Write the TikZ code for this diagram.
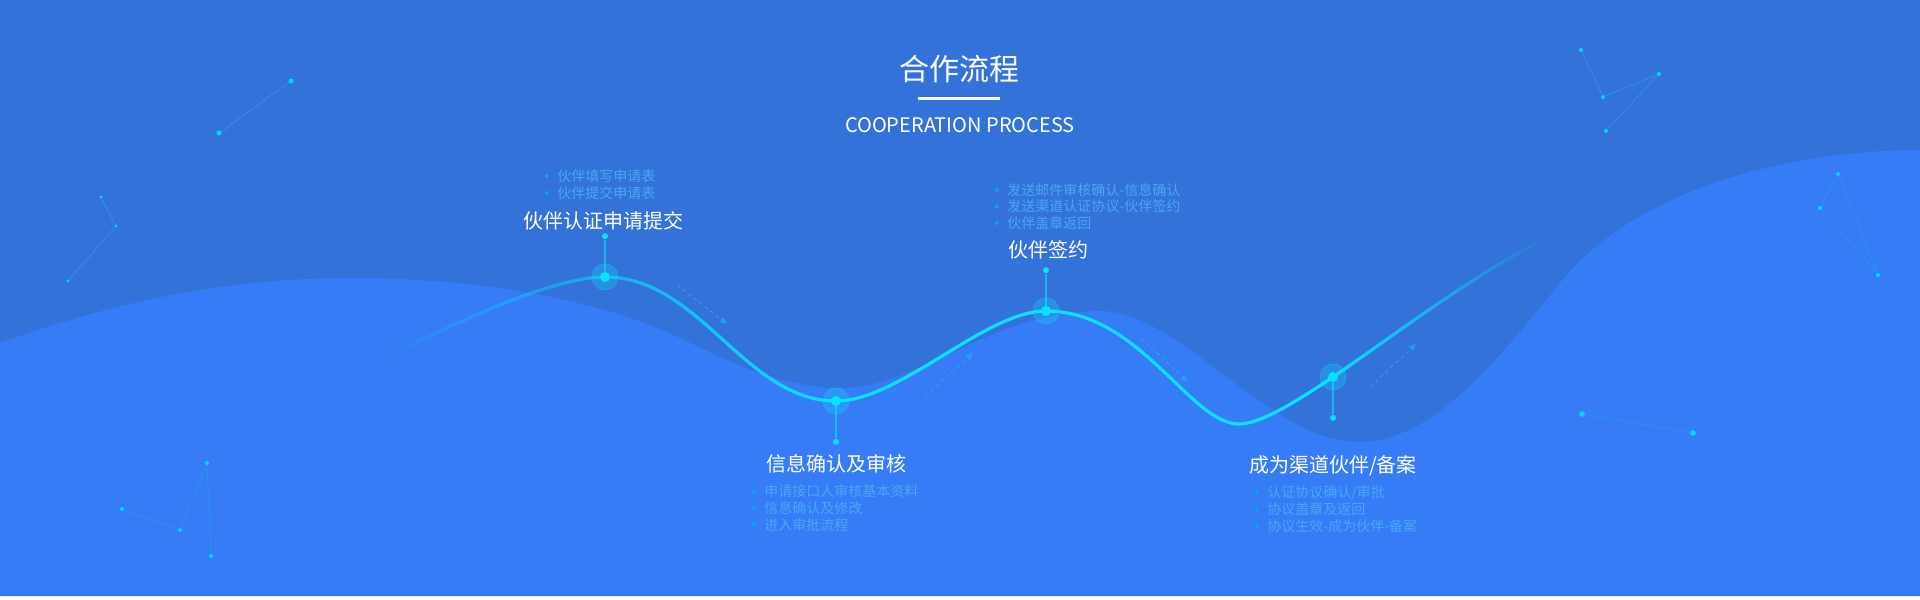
\documentclass[tikz,border=0pt]{standalone}
\usepackage{fontspec}
\setmainfont{Noto Sans CJK SC}
\usetikzlibrary{positioning,fadings,arrows.meta}

\definecolor{bgdark}{RGB}{51,114,217}
\definecolor{bglight}{RGB}{54,124,246}
\definecolor{wavecyan}{RGB}{10,225,255}
\definecolor{itemblue}{RGB}{72,168,244}
\definecolor{dotblue}{RGB}{20,155,250}
\definecolor{arrowblue}{RGB}{35,165,240}
\definecolor{sparkcyan}{RGB}{0,215,255}
\definecolor{sparkblue}{RGB}{40,150,235}

\tikzfading[name=fadein, left color=transparent!100, right color=transparent!45]
\tikzfading[name=halfin, left color=transparent!45, right color=transparent!0]
\tikzfading[name=fadeout, left color=transparent!0, right color=transparent!100]

\tikzset{
  wave/.style={line width=1.6pt, wavecyan, line cap=round},
  halo/.style={circle, inner sep=0, minimum size=13pt, fill=wavecyan, fill opacity=0.28,
    draw=wavecyan, draw opacity=0.25, line width=0.6pt},
  hub/.style={circle, inner sep=0, minimum size=5pt, fill=wavecyan},
  knob/.style={circle, inner sep=0, minimum size=3pt, fill=wavecyan},
  stem/.style={wavecyan, opacity=0.6, line width=0.6pt},
  steplabel/.style={white, inner sep=0, font=\fontsize{10pt}{12pt}\selectfont},
  item/.style={anchor=west, inner sep=0, text=itemblue, font=\fontsize{7pt}{8pt}\selectfont},
  itemdot/.style={circle, inner sep=0, minimum size=2pt, fill=dotblue},
  flow/.style={arrowblue, opacity=0.85, line width=0.5pt, dash pattern=on 2pt off 1.5pt,
    -{Triangle[length=3.5pt,width=3pt]}},
  spark/.style={circle, inner sep=0, minimum size=2pt, fill=sparkcyan},
  sparkline/.style={sparkblue, line width=0.5pt, opacity=0.8},
}

\begin{document}
\begin{tikzpicture}[x=0.5pt, y=-0.5pt]
  \useasboundingbox (0,0) rectangle (1920,599);
  \fill[white] (0,0) rectangle (1920,599);
  \fill[bgdark] (0,0) rectangle (1920,596);

  % Light wave
  \fill[bglight] (0,343) .. controls (120,300) and (230,278) .. (352,278)
    .. controls (480,278) and (600,300) .. (680,338)
    .. controls (740,368) and (790,388) .. (840,388)
    .. controls (920,388) and (990,311) .. (1100,311)
    .. controls (1180,311) and (1270,442) .. (1358,442)
    .. controls (1430,442) and (1490,370) .. (1560,283)
    .. controls (1640,184) and (1800,150) .. (1920,150)
    -- (1920,596) -- (0,596) -- cycle;

  % Title
  \node[white, font=\fontsize{15pt}{18pt}\selectfont] (title) at (959,69) {合作流程};
  \node[fill=white, inner sep=0, minimum width=41pt, minimum height=1.5pt] (rule) at (959,99) {};
  \node[white, inner sep=0, font=\fontsize{10pt}{12pt}\selectfont] (sub) at (960,125) {COOPERATION PROCESS};

  % Sparks
  \foreach \p [count=\k] in {(291,81),(219,133)} \node[spark, minimum size=2.5pt] (a\k) at \p {};
  \draw[sparkline] (a1) -- (a2);
  \foreach \p [count=\k] in {(101,197),(116,226),(68,281)} \node[spark, minimum size=1.6pt] (b\k) at \p {};
  \draw[sparkline] (b1) -- (b2) -- (b3);
  \foreach \p [count=\k] in {(1581,50),(1603,97),(1659,74),(1606,131)} \node[spark] (c\k) at \p {};
  \draw[sparkline] (c1) -- (c2) -- (c3) -- (c4);
  \foreach \p [count=\k] in {(1838,174),(1820,208),(1878,275)} \node[spark] (d\k) at \p {};
  \draw[sparkline] (d1) -- (d2) -- (d3) -- (d1);
  \foreach \p [count=\k] in {(122,509),(180,530),(207,463),(211,556)} \node[spark] (e\k) at \p {};
  \draw[sparkline] (e1) -- (e2) -- (e3) -- (e4);
  \foreach \p [count=\k] in {(1582,414),(1693,433)} \node[spark, minimum size=2.8pt] (f\k) at \p {};
  \draw[sparkline] (f1) -- (f2);

  % Curve
  \coordinate (w0) at (374,363);
  \coordinate (w1) at (605,277);
  \coordinate (w2) at (836,401);
  \coordinate (w3) at (1046,311);
  \coordinate (w4) at (1239,424);
  \coordinate (w5) at (1333,377);
  \coordinate (w6) at (1548,237);
  \draw[wave, path fading=fadein] (w0) .. controls (430,336) and (545,277) .. (w1);
  \draw[wave, path fading=halfin] (w1) .. controls (700,277) and (745,401) .. (w2);
  \draw[wave] (w2) .. controls (900,401) and (985,311) .. (w3)
    .. controls (1140,311) and (1190,424) .. (w4)
    .. controls (1259,424) and (1292,404.5) .. (w5);
  \draw[wave, path fading=fadeout] (w5) .. controls (1394,335.5) and (1471,276) .. (w6);

  % Flow arrows
  \coordinate (f1s) at (677,285);  \coordinate (f1e) at (727,324);
  \coordinate (f2s) at (925,396);  \coordinate (f2e) at (973,353);
  \coordinate (f3s) at (1141,338); \coordinate (f3e) at (1188,382);
  \coordinate (f4s) at (1370,387); \coordinate (f4e) at (1416,344);
  \draw[flow] (f1s) -- (f1e);
  \draw[flow] (f2s) -- (f2e);
  \draw[flow] (f3s) -- (f3e);
  \draw[flow] (f4s) -- (f4e);

  % Step 1
  \node[halo] (h1) at (w1) {};
  \node[hub] (n1) at (w1) {};
  \node[knob, above=16pt of n1] (k1) {};
  \draw[stem] (n1) -- (k1);
  \node[steplabel] (l1) at (603,221) {伙伴认证申请提交};
  \foreach \txt [count=\i] in {伙伴填写申请表, 伙伴提交申请表} {
    \node[item] (p1\i) at (557,159+17*\i) {\txt};
    \node[itemdot, left=4pt of p1\i] (q1\i) {};
  }

  % Step 2
  \node[halo] (h2) at (w2) {};
  \node[hub] (n2) at (w2) {};
  \node[knob, below=16pt of n2] (k2) {};
  \draw[stem] (n2) -- (k2);
  \node[steplabel] (l2) at (836,464) {信息确认及审核};
  \foreach \txt [count=\i] in {申请接口人审核基本资料, 信息确认及修改, 进入审批流程} {
    \node[item] (p2\i) at (764,474+17*\i) {\txt};
    \node[itemdot, left=4pt of p2\i] (q2\i) {};
  }

  % Step 3
  \node[halo] (h3) at (w3) {};
  \node[hub] (n3) at (w3) {};
  \node[knob, above=16pt of n3] (k3) {};
  \draw[stem] (n3) -- (k3);
  \node[steplabel] (l3) at (1048,250) {伙伴签约};
  \foreach \txt [count=\i] in {发送邮件审核确认-信息确认, 发送渠道认证协议-伙伴签约, 伙伴盖章返回} {
    \node[item] (p3\i) at (1007,173.5+16.5*\i) {\txt};
    \node[itemdot, left=4pt of p3\i] (q3\i) {};
  }

  % Step 4
  \node[halo] (h4) at (w5) {};
  \node[hub] (n4) at (w5) {};
  \node[knob, below=16pt of n4] (k4) {};
  \draw[stem] (n4) -- (k4);
  \node[steplabel] (l4) at (1333,466) {成为渠道伙伴/备案};
  \foreach \txt [count=\i] in {认证协议确认/审批, 协议盖章及返回, 协议生效-成为伙伴-备案} {
    \node[item] (p4\i) at (1267,476.5+16.5*\i) {\txt};
    \node[itemdot, left=4pt of p4\i] (q4\i) {};
  }
\end{tikzpicture}
\end{document}
